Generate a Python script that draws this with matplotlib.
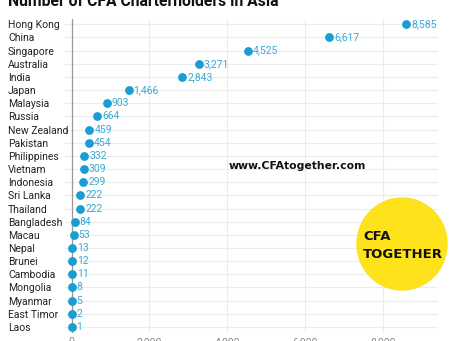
import matplotlib.pyplot as plt
from matplotlib.patches import Ellipse

countries = ["Hong Kong", "China", "Singapore", "Australia", "India", "Japan",
             "Malaysia", "Russia", "New Zealand", "Pakistan", "Philippines",
             "Vietnam", "Indonesia", "Sri Lanka", "Thailand", "Bangladesh",
             "Macau", "Nepal", "Brunei", "Cambodia", "Mongolia", "Myanmar",
             "East Timor", "Laos"]
holders = [8585, 6617, 4525, 3271, 2843, 1466, 903, 664, 459, 454, 332,
           309, 299, 222, 222, 84, 53, 13, 12, 11, 8, 5, 2, 1]
xticks = [0, 2000, 4000, 6000, 8000]
xtick_labels = ["0", "2,000", "4,000", "6,000", "8,000"]

plt.rcParams['font.family'] = ['Roboto', 'DejaVu Sans']

fig = plt.figure(figsize=(4.54, 3.41), dpi=100)
ax = fig.add_axes([65/454, 1-333/341, (438-65)/454, (333-19)/341])

pos = list(range(len(countries)))
ax.scatter(holders, pos, s=40, color="#1a9dd3", zorder=3, linewidths=0)
for x, y in zip(holders, pos):
    ax.annotate(f"{x:,}", (x, y), xytext=(3.6, 0), textcoords="offset points",
                va="center", ha="left", fontsize=7.5, color="#3aa9d6")

ax.set_xlim(-167, 9408)
ax.set_ylim(23.46, -0.40)
ax.set_yticks(pos)
ax.set_yticklabels(countries, ha="left", fontsize=7.5, color="#222222")
ax.set_xticks(xticks)
ax.set_xticklabels(xtick_labels, fontsize=7.5, color="#888888")
ax.tick_params(axis="y", length=0, pad=41)
ax.tick_params(axis="x", length=0, pad=3)
ax.grid(True, color="#ececec", linewidth=0.8)
ax.set_axisbelow(True)
ax.axvline(0, color="#999999", linewidth=0.9, zorder=1)
for s in ax.spines.values():
    s.set_visible(False)

fig.text(8/454, 1-6.5/341, "Number of CFA Charterholders in Asia",
         fontsize=11.3, fontweight="bold", ha="left", va="baseline", color="#111111")

fig.text(229/454, 1-166/341, "www.CFAtogether.com", fontsize=7.8,
         fontweight="bold", family="DejaVu Sans", ha="left", va="center", color="#111111")

circ = Ellipse((402/454, 1-244/341), 90/454, 92/341, transform=fig.transFigure,
               color="#fde21c", zorder=10)
fig.add_artist(circ)
fig.text(363/454, 1-237/341, "CFA", fontsize=9.5, fontweight="heavy",
         family="DejaVu Sans", ha="left", va="center", color="#111111", zorder=11)
fig.text(363/454, 1-254/341, "TOGETHER", fontsize=9.5, fontweight="heavy",
         family="DejaVu Sans", ha="left", va="center", color="#111111", zorder=11)

fig.savefig("out.png", dpi=100)
